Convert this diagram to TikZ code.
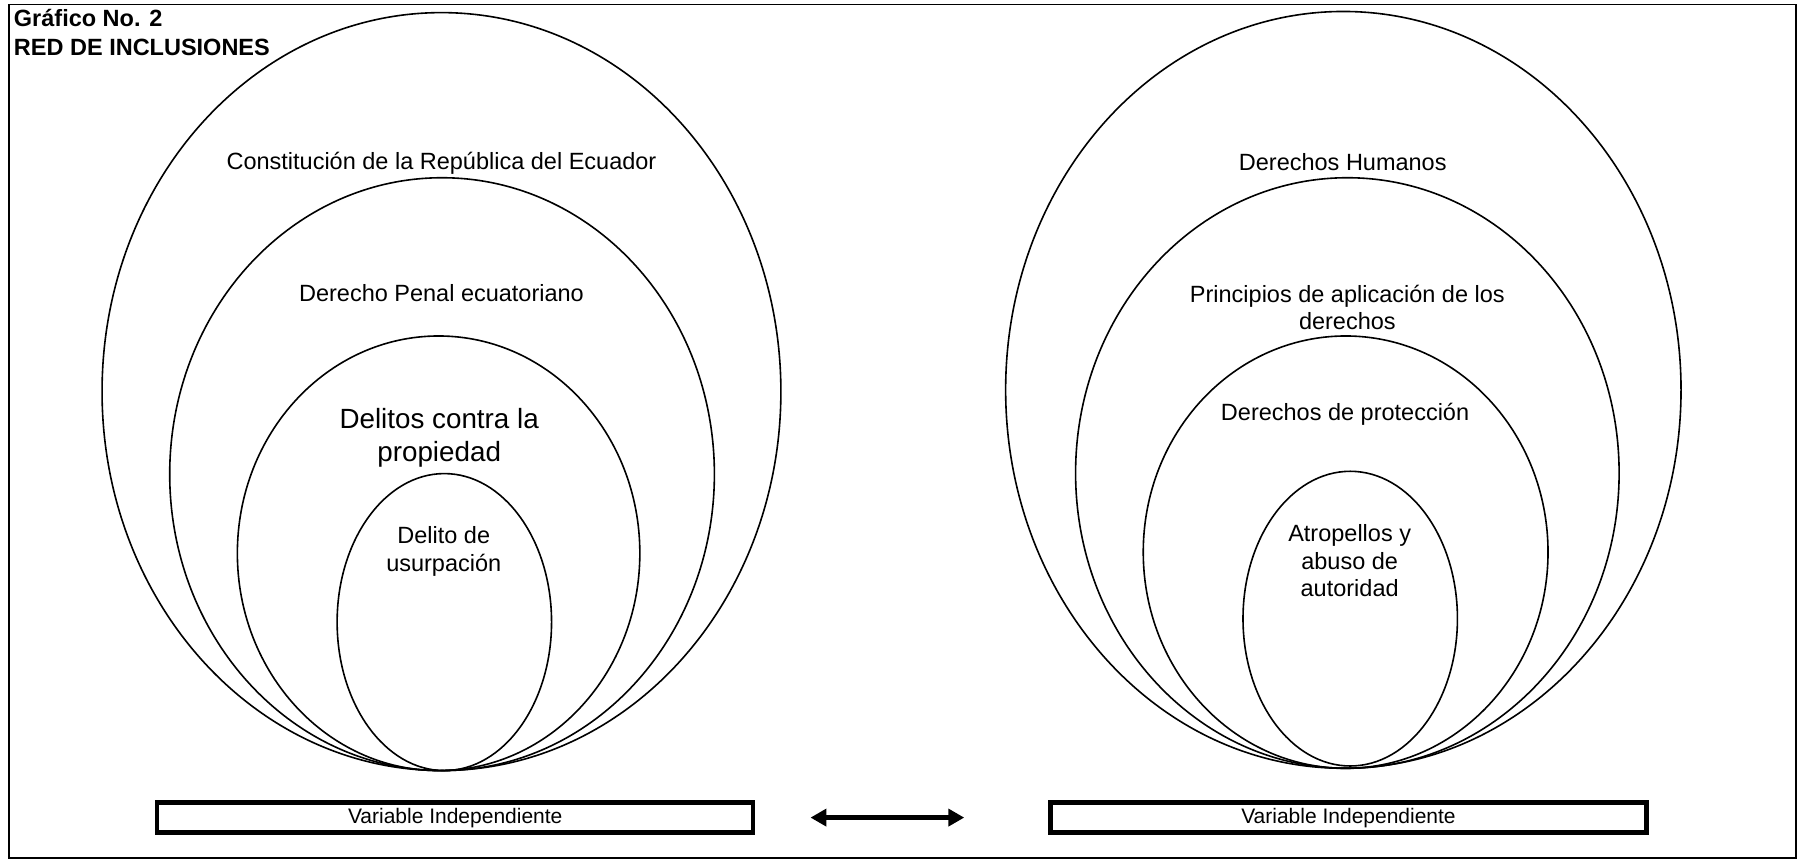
\documentclass[tikz,border=0pt]{standalone}
\usepackage{fontspec}
\setmainfont{Liberation Sans}
\usetikzlibrary{arrows.meta}
\begin{document}
\begin{tikzpicture}[x=1.1467pt,y=-1.1467pt,
  ell/.style={line width=1.6pt},
  lbl/.style={font=\fontsize{23.5}{27.5}\selectfont, align=center, inner sep=0pt},
  biglbl/.style={font=\fontsize{27.8}{33}\selectfont, align=center, inner sep=0pt},
  varbox/.style={draw, line width=4.5pt, minimum width=596pt, minimum height=30pt, inner sep=0pt, font=\fontsize{21}{25}\selectfont},
  title/.style={font=\bfseries\fontsize{23.5}{28.7}\selectfont, align=left, anchor=north west, inner sep=0pt}]
\useasboundingbox (0,0) rectangle (1568,750.85);
\draw[line width=1.7pt] (8,4) rectangle (1566,748);
\node[title] (t) at (12,8) {Gráfico No. 2\\RED DE INCLUSIONES};
% left group
\draw[ell] (385,341.5) ellipse [x radius=296, y radius=330.5];
\draw[ell] (385.5,413.5) ellipse [x radius=237.5, y radius=258.5];
\draw[ell] (382.5,482.5) ellipse [x radius=175.5, y radius=189.5];
\draw[ell] (387.5,542.5) ellipse [x radius=93.5, y radius=129.5];
\node[lbl] (l1) at (385,142) {Constitución de la República del Ecuador};
\node[lbl] (l2) at (385,256) {Derecho Penal ecuatoriano};
\node[biglbl] (l3) at (383,382) {Delitos contra la\\propiedad};
\node[lbl] (l4) at (387,481) {Delito de\\usurpación};
% right group
\draw[ell] (1171.5,340) ellipse [x radius=294.5, y radius=330];
\draw[ell] (1175,412.5) ellipse [x radius=237, y radius=257.5];
\draw[ell] (1173.5,481.5) ellipse [x radius=176.5, y radius=188.5];
\draw[ell] (1177.5,539.5) ellipse [x radius=93.5, y radius=128.5];
\node[lbl] (r1) at (1171,141) {Derechos Humanos};
\node[lbl] (r2) at (1175,268) {Principios de aplicación de los\\derechos};
\node[lbl] (r3) at (1173,361) {Derechos de protección};
\node[lbl] (r4) at (1177,489) {Atropellos y\\abuso de\\autoridad};
% boxes
\node[varbox] (v1) at (397,713) {Variable Independiente};
\node[varbox] (v2) at (1176,713) {Variable Independiente};
\draw[line width=4.5pt, {Triangle[width=17pt,length=16pt]}-{Triangle[width=17pt,length=16pt]}, shorten <=55pt, shorten >=84pt] (v1.east) -- (v2.west);
\end{tikzpicture}
\end{document}
